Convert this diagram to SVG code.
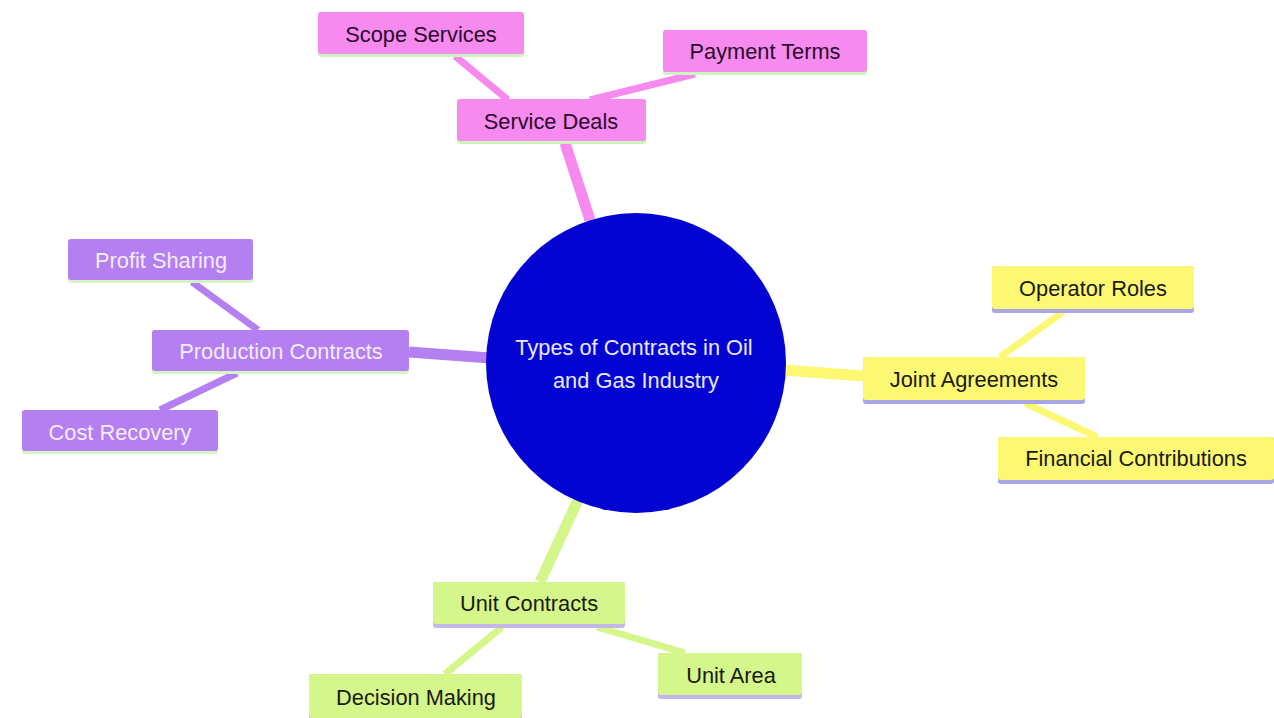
<svg xmlns="http://www.w3.org/2000/svg" width="1274" height="718" viewBox="0 0 1274 718">
<style>
text{font-family:"Liberation Sans",Arial,sans-serif;font-size:21.8px;text-anchor:middle;dominant-baseline:central}
.e{fill:none;stroke-linecap:butt}
.main{stroke-width:11}
.sub{stroke-width:7}
.pk{fill:#f68aef}
.pu{fill:#b47ff0}
.ye{fill:#fcf873}
.gr{fill:#d5f68a}
.pkl{stroke:#f68aef}
.pul{stroke:#b47ff0}
.yel{stroke:#fcf873}
.grl{stroke:#d5f68a}
.tpk{fill:#2a0a2a}
.tpu{fill:#f4ecff}
.tdk{fill:#1a1a10}
</style>
<rect width="1274" height="718" fill="#ffffff"/>
<g id="connectors">
<line class="e main pkl" x1="590" y1="220" x2="565" y2="143"/>
<line class="e sub pkl" x1="508" y1="100" x2="455" y2="56"/>
<line class="e sub pkl" x1="590" y1="100" x2="695" y2="74"/>
<line class="e main pul" x1="490" y1="358" x2="409" y2="352"/>
<line class="e sub pul" x1="258" y1="330" x2="192" y2="282"/>
<line class="e sub pul" x1="237" y1="373" x2="160" y2="410"/>
<line class="e main yel" x1="784" y1="370" x2="863" y2="376"/>
<line class="e sub yel" x1="1000" y1="357" x2="1063" y2="312"/>
<line class="e sub yel" x1="1025" y1="403" x2="1097" y2="437"/>
<line class="e main grl" x1="578" y1="500" x2="540" y2="582"/>
<line class="e sub grl" x1="502" y1="627" x2="445" y2="674"/>
<line class="e sub grl" x1="597" y1="627" x2="685" y2="653"/>
</g>
<g id="center">
<circle cx="636" cy="363" r="150" fill="#0404d2"/>
<text x="634" y="347" style="fill:#e8e8ff;font-size:21.8px">Types of Contracts in Oil</text>
<text x="636" y="380" style="fill:#e8e8ff;font-size:21.8px">and Gas Industry</text>
</g>
<g id="service-deals">
<rect x="457" y="99" width="189" height="45" rx="3" fill="#cdf3c0"/>
<rect class="pk" x="457" y="99" width="189" height="42" rx="3"/>
<text class="tpk" x="551" y="121">Service Deals</text>
</g>
<g id="scope-services">
<rect x="318" y="12" width="206" height="45" rx="3" fill="#cdf3c0"/>
<rect class="pk" x="318" y="12" width="206" height="42" rx="3"/>
<text class="tpk" x="421" y="34">Scope Services</text>
</g>
<g id="payment-terms">
<rect x="663" y="30" width="204" height="45" rx="3" fill="#cdf3c0"/>
<rect class="pk" x="663" y="30" width="204" height="42" rx="3"/>
<text class="tpk" x="765" y="51">Payment Terms</text>
</g>
<g id="production-contracts">
<rect x="152" y="330" width="257" height="44" rx="3" fill="#d6f3c6"/>
<rect class="pu" x="152" y="330" width="257" height="41" rx="3"/>
<text class="tpu" x="281" y="351">Production Contracts</text>
</g>
<g id="profit-sharing">
<rect x="68" y="239" width="185" height="44" rx="3" fill="#d6f3c6"/>
<rect class="pu" x="68" y="239" width="185" height="41" rx="3"/>
<text class="tpu" x="161" y="260">Profit Sharing</text>
</g>
<g id="cost-recovery">
<rect x="22" y="410" width="196" height="44" rx="3" fill="#d6f3c6"/>
<rect class="pu" x="22" y="410" width="196" height="41" rx="3"/>
<text class="tpu" x="120" y="432">Cost Recovery</text>
</g>
<g id="joint-agreements">
<rect x="863" y="357" width="222" height="47" rx="3" fill="#a9a6e6"/>
<rect class="ye" x="863" y="357" width="222" height="43" rx="3"/>
<text class="tdk" x="974" y="379">Joint Agreements</text>
</g>
<g id="operator-roles">
<rect x="992" y="266" width="202" height="47" rx="3" fill="#a9a6e6"/>
<rect class="ye" x="992" y="266" width="202" height="43" rx="3"/>
<text class="tdk" x="1093" y="288">Operator Roles</text>
</g>
<g id="financial-contributions">
<rect x="998" y="437" width="276" height="47" rx="3" fill="#a9a6e6"/>
<rect class="ye" x="998" y="437" width="276" height="43" rx="3"/>
<text class="tdk" x="1136" y="458">Financial Contributions</text>
</g>
<g id="unit-contracts">
<rect x="433" y="582" width="192" height="46" rx="3" fill="#c3b6ea"/>
<rect class="gr" x="433" y="582" width="192" height="42" rx="3"/>
<text class="tdk" x="529" y="603">Unit Contracts</text>
</g>
<g id="decision-making">
<rect x="309" y="674" width="213" height="48" rx="3" fill="#c3b6ea"/>
<rect class="gr" x="309" y="674" width="213" height="44" rx="3"/>
<text class="tdk" x="416" y="697">Decision Making</text>
</g>
<g id="unit-area">
<rect x="658" y="653" width="144" height="46" rx="3" fill="#c3b6ea"/>
<rect class="gr" x="658" y="653" width="144" height="42" rx="3"/>
<text class="tdk" x="731" y="675">Unit Area</text>
</g>
</svg>
